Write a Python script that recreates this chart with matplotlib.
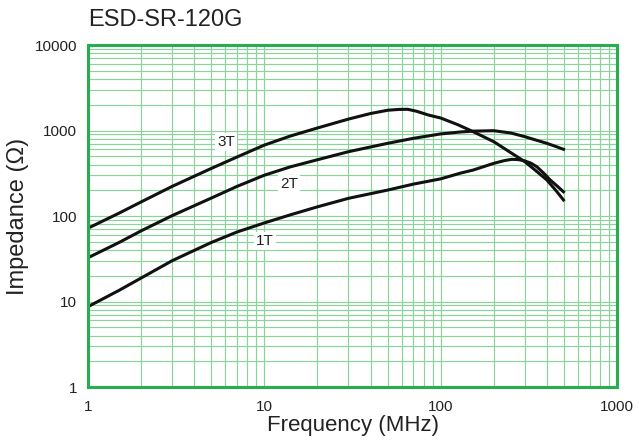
import numpy as np
import matplotlib.pyplot as plt
from matplotlib.ticker import LogLocator, FixedLocator, NullFormatter

plt.rcParams['font.family'] = ['Liberation Sans', 'DejaVu Sans']

# Impedance curves (MHz, ohm)
freq_1t = [1, 1.5, 2, 3, 5, 7, 10, 14, 20, 30, 50, 70, 100, 130, 153, 200, 230, 253,
           275, 298, 325, 351, 385, 418, 460, 497]
imp_1t = [8.7, 13.5, 18.8, 30, 49, 65, 83, 103, 128, 161, 201, 236, 272, 318, 345, 413,
          445, 460, 457, 443, 415, 377, 315, 264, 222, 192]

freq_2t = [1, 1.5, 2, 3, 5, 7, 10, 14, 20, 30, 50, 70, 100, 130, 153, 200, 250, 300,
           350, 400, 450, 497]
imp_2t = [32.5, 49, 67, 101, 162, 222, 300, 375, 455, 565, 708, 810, 912, 962, 983, 995,
          935, 847, 769, 708, 650, 603]

freq_3t = [1, 1.5, 2, 3, 5, 7, 10, 14, 20, 30, 40, 50, 58, 65, 73, 85, 100, 125, 153,
           200, 250, 300, 350, 400, 450, 497]
imp_3t = [72, 108, 146, 222, 360, 490, 675, 860, 1070, 1360, 1580, 1725, 1765, 1770, 1680,
          1520, 1400, 1170, 968, 740, 550, 432, 333, 264, 199, 154]

curve_labels = ['1T', '2T', '3T']
label_x = [10.1, 13.8, 6.07]
label_y = [51, 237, 734]

fig = plt.figure(figsize=(6.39, 4.43), dpi=100)
ax = fig.add_axes([0.1377, 0.1264, 0.8279, 0.772])

grid_col = '#8ad49c'
frame_col = '#27ae4f'

for fx, iy in [(freq_1t, imp_1t), (freq_2t, imp_2t), (freq_3t, imp_3t)]:
    ax.plot(fx, iy, color='#111111', lw=2.2, solid_joinstyle='round')

for txt, x, y in zip(curve_labels, label_x, label_y):
    ax.text(x, y, txt, fontsize=11, ha='center', va='center', zorder=5, color='#222222',
            bbox=dict(facecolor='white', edgecolor='none', pad=1.5))

ax.set_xscale('log')
ax.set_yscale('log')
ax.set_xlim(1, 1000)
ax.set_ylim(1, 10000)

ax.xaxis.set_major_locator(FixedLocator([1, 10, 100, 1000]))
ax.yaxis.set_major_locator(FixedLocator([1, 10, 100, 1000, 10000]))
ax.xaxis.set_minor_locator(LogLocator(base=10, subs=np.arange(2, 10)))
ax.yaxis.set_minor_locator(LogLocator(base=10, subs=np.arange(2, 10)))
ax.xaxis.set_minor_formatter(NullFormatter())
ax.yaxis.set_minor_formatter(NullFormatter())
ax.set_xticklabels(['1', '10', '100', '1000'])
ax.set_yticklabels(['1', '10', '100', '1000', '10000'])

ax.grid(which='both', color=grid_col, lw=0.85)
ax.set_axisbelow(True)
ax.tick_params(which='both', length=0, labelsize=11, colors='#222222')
ax.tick_params(axis='x', pad=9)
ax.tick_params(axis='y', pad=8)

for s in ax.spines.values():
    s.set_color(frame_col)
    s.set_linewidth(2.2)

ax.set_xlabel('Frequency (MHz)', fontsize=16, color='#222222', labelpad=1)
ax.set_ylabel('Impedance (Ω)', fontsize=17, color='#222222', labelpad=4)
fig.text(0.1377, 0.93, 'ESD-SR-120G', fontsize=17, color='#222222', ha='left', va='bottom')

fig.savefig('out.png', dpi=100)
